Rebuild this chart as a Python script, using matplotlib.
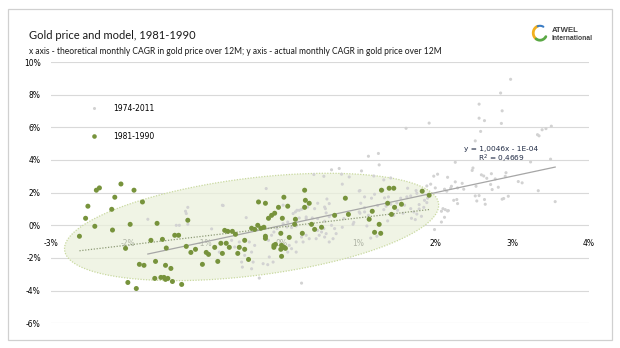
import numpy as np
import matplotlib
matplotlib.use("Agg")
import matplotlib.pyplot as plt
from matplotlib.patches import Rectangle, Polygon
from matplotlib.lines import Line2D
from matplotlib.ticker import FuncFormatter

# ---------------- data (percent units) ----------------
gray_x = [2.98, 2.85, 2.57, 2.87, 2.57, 2.64, 1.92, 2.86, 1.62, 2.59, 2.52, 3.51, 3.44, 3.39, 3.33, 3.35,
          1.26, 1.13, 1.27, 1.04, 0.75, 0.65, 3.50, 3.24, 2.26, 2.49, 2.48, 2.73, 2.63, 2.60, 2.91, 2.92,
          2.03, 1.98, 2.16, 1.42, 1.33, 0.42, 0.55, 0.78, 1.20, 0.88, 2.78, 3.08, 3.13, 2.26, 2.35, 2.21,
          2.53, 2.72, 2.82, 2.74, 2.67, 3.34, 2.95, 2.89, 2.52, 2.57, 2.64, 2.54, 2.65, 2.87, 3.56, 2.28,
          2.29, 2.24, 2.12, 2.15, 2.00, 2.20, 2.29, 2.37, 1.94, 1.89, 1.64, 1.01, 0.79, 1.76, 1.63, 1.68,
          1.90, 1.86, 1.89, 1.55, 1.50, 1.42, 1.17, 1.08, 1.03, 1.34, 1.39, 0.47, 0.59, 0.56, 2.13, 2.17,
          2.08, 1.79, 1.79, 1.85, 1.68, 1.72, 1.76, 1.82, 1.69, 1.74, 2.12, 2.08, 1.99, 1.51, 1.58, 1.46,
          1.38, 1.08, 1.02, 0.94, 0.81, 0.79, 0.93, 1.11, 1.36, 1.25, 1.33, 1.13, 1.08, 1.01, 1.16, 1.24,
          1.02, 1.32, 1.21, 1.75, 1.60, 2.16, 2.10,
          -0.20, -0.76, -0.46, -0.91, 0.18, 0.20, 0.26, 0.43, 0.57, 0.62, 0.58, 0.62, 0.56, 0.23, 0.32,
          0.40, 0.47, 0.08, 0.02, 0.07, 0.13, 0.19, -0.06, -0.10, -0.13, -0.17, 0.47, 0.52, 0.55, 0.58,
          0.56, 0.49, 0.45, 0.32, 0.36, 0.26, 0.19, 0.28, 0.62, 0.67, 0.71, 0.69, 0.65, 0.10, 0.08, 0.19,
          0.13, -0.42, -0.35, -0.39, -0.48, -0.52, -0.37, -0.24, -0.18, -0.11, -0.16, -0.29, 0.26, -0.61,
          -0.55, -0.65, -0.81, -1.74, -1.22, -1.25, -1.37, -1.33, -1.22, -0.77, 0.02, -1.24, -0.51, -0.39,
          0.26, 0.15, 0.19, 0.23, 0.32, 0.34]
gray_y = [8.94, 8.10, 7.42, 7.01, 6.56, 6.41, 6.26, 6.24, 5.94, 5.75, 5.17, 6.07, 5.92, 5.85, 5.55, 5.48,
          4.40, 4.23, 3.70, 3.33, 3.48, 3.40, 4.05, 3.88, 3.86, 3.51, 3.36, 3.16, 3.02, 3.09, 3.00, 3.22,
          3.13, 3.01, 2.94, 2.90, 2.78, 3.11, 3.00, 3.13, 3.02, 2.96, 2.84, 2.68, 2.60, 2.66, 2.57, 2.39,
          2.39, 2.50, 2.33, 2.19, 2.88, 2.12, 1.78, 1.64, 1.80, 1.82, 1.58, 1.49, 1.29, 1.60, 1.45, 1.58,
          1.33, 1.53, 2.21, 2.09, 2.29, 2.27, 2.29, 2.21, 2.52, 2.41, 2.27, 2.10, 2.52, 1.96, 1.74, 1.80,
          1.66, 1.53, 1.39, 1.66, 1.37, 1.29, 1.66, 1.74, 1.35, 1.68, 1.74, 1.35, 1.61, 1.12, 0.96, 0.90,
          0.86, 1.27, 1.00, 1.10, 1.02, 0.82, 0.69, 0.55, 0.43, 0.35, 0.49, 0.20, -0.26, 0.92, 0.74, 0.61,
          0.27, 1.08, 0.74, 0.18, 0.41, -0.12, 0.06, -0.04, 1.17, 1.21, 0.96, 0.61, 0.82, 0.82, -0.78, -0.67,
          2.13, 2.15, 1.90, 2.13, 1.23, 0.88, 1.02,
          2.25, 1.21, 0.47, -0.22, 0.82, 0.92, 0.98, 1.02, 1.02, 1.33, 0.76, 0.53, 0.25, 0.45, 0.41,
          0.45, 0.41, 0.20, 0.10, -0.10, -0.14, -0.04, -0.20, -0.41, -0.61, -0.92, -0.31, -0.41, -0.20, -0.51,
          -0.72, -0.61, -0.82, -0.61, -0.82, -0.72, -1.02, -1.02, -1.02, -0.82, -0.51, -0.20, 0.00, -1.23, -1.64, -1.64,
          -1.43, -1.02, -1.23, -1.64, -1.84, -2.25, -2.25, -2.35, -2.41, -2.25, -1.94, -3.23, -3.54, -1.33,
          -1.02, -0.92, -1.64, 0.37, 1.10, 0.86, 0.00, 0.00, 0.06, 1.23, 1.23, 0.72, -2.56, -2.66,
          -0.51, 0.72, 0.31, 0.92, 0.51, 1.12]

green_x = [-2.09, -2.37, -2.41, -1.92, -2.17, -1.81, -2.52, -2.21, -2.55, -2.43, -2.20, -2.63, -1.97,
           -1.62, -1.70, -1.55, -1.39, -1.34, -1.22, -2.03, -1.50, -1.24, -1.18, -1.12, -1.64, -1.85,
           -1.79, -1.51, -1.44, -1.65, -1.57, -1.53, -1.51, -1.48, -1.42, -1.30, -2.00, -1.89,
           0.30, 0.03, 0.31, 0.36, -0.30, -0.21, 0.30, -0.04, 0.08, -0.09, -0.13, -0.17, 0.01, 0.18,
           -0.31, -0.23, -0.39, -0.35, -0.27, -0.74, -0.70, -0.64, -0.60, 0.17, 0.39, 0.52, 0.43, -0.01,
           0.10, 0.27, -0.21, -0.21, -0.48, -0.72, -0.79, -0.68, -0.87, -0.55, -0.48, -0.98, -0.95, -0.77,
           -0.57, -0.10, -0.10, -0.08, 0.00, 0.03, 0.05, -0.01, 0.00, -0.43, -0.83, -1.03, 0.69, 0.83, 0.87,
           1.30, 1.40, 1.46, 1.83, 1.92, 1.38, 1.56, 1.47, 1.18, 1.43, 1.14, 1.27, 1.21, 1.29]
green_y = [2.53, 2.29, 2.15, 2.15, 1.72, 1.43, 1.17, 0.98, 0.43, -0.06, -0.29, -0.67, 0.06,
           0.12, -0.92, -0.86, -0.61, -0.61, 0.31, -1.41, -1.39, -1.29, -1.66, -1.47, -2.21, -2.39,
           -2.45, -2.45, -2.64, -3.25, -3.19, -3.19, -3.31, -3.25, -3.44, -3.62, -3.50, -3.87,
           2.15, 1.72, 1.53, 1.35, 1.43, 1.35, 1.10, 1.10, 1.17, 0.74, 0.61, 0.43, 0.43, 0.37,
           0.00, -0.12, -0.18, -0.25, -0.18, -0.31, -0.37, -0.37, -0.55, 0.06, 0.06, -0.12, -0.25, -0.49,
           -0.74, -0.49, -0.67, -0.80, -0.92, -1.10, -1.10, -1.35, -1.35, -1.35, -1.47, -1.66, -1.78, -1.72,
           -1.72, -1.35, -1.23, -1.17, -1.23, -1.35, -1.41, -1.47, -1.90, -2.09, -2.21, -2.39, 0.61, 1.66, 0.67,
           2.15, 2.27, 2.27, 2.09, 1.84, 1.35, 1.29, 1.10, 0.86, 0.67, 0.37, 0.06, -0.43, -0.49]

series_labels = ["1974-2011", "1981-1990"]
trend_all = (1.0046, -0.01)      # slope, intercept (percent units)
trend_8190 = (0.555, -0.10)
r_squared = "0,4669"
ellipse_center = (-0.39, -0.10)
ellipse_u = (2.433, 1.43)        # half major axis vector (data units)
ellipse_v = (0.078, -2.96)       # half minor axis vector (data units)

x_ticks = [-3, -2, -1, 0, 1, 2, 3, 4]
y_ticks = [-6, -4, -2, 0, 2, 4, 6, 8, 10]

title = "Gold price and model, 1981-1990"
subtitle = "x axis - theoretical monthly CAGR in gold price over 12M; y axis - actual monthly CAGR in gold price over 12M"

# ---------------- figure ----------------
W, H = 620, 348
fig = plt.figure(figsize=(W / 100, H / 100), dpi=100)
fig.patch.set_facecolor("white")

def fx(px):
    return px / W

def fy(py):
    return 1 - py / H

# outer frame
fig.patches.append(Rectangle((fx(7.5), fy(340)), fx(612) - fx(7.5), fy(8.5) - fy(340),
                             transform=fig.transFigure, fill=False, edgecolor="#d0d0d0", lw=0.9))

ax = fig.add_axes([fx(51), fy(323.3), fx(589) - fx(51), fy(62) - fy(323.3)])
ax.set_xlim(-3, 4)
ax.set_ylim(-6, 10)
for s in ax.spines.values():
    s.set_visible(False)
ax.spines["bottom"].set_position(("data", 0))
ax.set_xticks(x_ticks)
ax.set_yticks(y_ticks)
pct = FuncFormatter(lambda v, p: f"{v:.0f}%")
ax.xaxis.set_major_formatter(pct)
ax.yaxis.set_major_formatter(pct)
ax.tick_params(axis="x", length=0, pad=9.5, labelsize=5.5, colors="#000000")
ax.tick_params(axis="y", length=0, pad=7.3, labelsize=5.5, colors="#000000")
ax.grid(axis="y", color="#d9d9d9", lw=0.8, zorder=0)
ax.set_axisbelow(True)

# ellipse
t = np.linspace(0, 2 * np.pi, 300)
ex = ellipse_center[0] + ellipse_u[0] * np.cos(t) + ellipse_v[0] * np.sin(t)
ey = ellipse_center[1] + ellipse_u[1] * np.cos(t) + ellipse_v[1] * np.sin(t)
ax.add_patch(Polygon(np.column_stack([ex, ey]), closed=True, facecolor="#ebf1dd", alpha=0.75,
                     edgecolor="none", zorder=1))
ax.plot(ex, ey, color="#c9d99f", lw=0.9, ls=(0, (1, 1.2)), zorder=1.1)

# points
ax.scatter(gray_x, gray_y, s=5, color="#d2d2d2", edgecolors="none", zorder=2, label=series_labels[0])

# trend lines
gx = np.array([min(gray_x), max(gray_x)])
ax.plot(gx, trend_all[0] * gx + trend_all[1], color="#a6a6a6", lw=0.9, zorder=3)
gr = np.array([min(green_x), max(green_x)])
ax.plot(gr, trend_8190[0] * gr + trend_8190[1], color="#8f9c78", lw=0.9, ls=(0, (1, 1.3)), zorder=3)

ax.scatter(green_x, green_y, s=13, color="#77933c", edgecolors="none", zorder=4, label=series_labels[1])

# equation
ax.text(2.86, 4.65, f"y = {trend_all[0]:.4f}x - 1E-04".replace(".", ","), ha="center", va="center",
        fontsize=5.3, color="#1f2a44", zorder=5)
ax.text(2.86, 4.05, f"R$^2$ = {r_squared}", ha="center", va="center", fontsize=5.3, color="#1f2a44", zorder=5)

# legend
handles = [Line2D([], [], ls="none", marker="o", ms=2.2, mfc="#d2d2d2", mec="none"),
           Line2D([], [], ls="none", marker="o", ms=3.3, mfc="#77933c", mec="none")]
fig.legend(handles, series_labels, loc="upper left", bbox_to_anchor=(fx(90), fy(104)),
           frameon=False, fontsize=5.5, handlelength=1.0, handletextpad=2.1, labelspacing=2.45,
           borderpad=0, borderaxespad=0)

# titles
fig.text(fx(29.5), fy(35.5), title, fontsize=8.0, family="Lato", color="#1a1a1a", va="center", ha="left")
fig.text(fx(29.5), fy(51.5), subtitle, fontsize=6.15, family="Lato", color="#1a1a1a", va="center", ha="left")

# logo
lax = fig.add_axes([fx(531), fy(42), fx(549) - fx(531), fy(24) - fy(42)])
lax.set_xlim(-1, 1)
lax.set_ylim(-1, 1)
lax.axis("off")
a1 = np.linspace(np.radians(110), np.radians(235), 40)
lax.plot(0.75 * np.cos(a1), 0.8 * np.sin(a1), color="#f2b01e", lw=2.0, solid_capstyle="round")
a2 = np.linspace(np.radians(235), np.radians(330), 40)
lax.plot(0.75 * np.cos(a2), 0.8 * np.sin(a2), color="#5aa845", lw=2.0, solid_capstyle="round")
a3 = np.linspace(np.radians(60), np.radians(110), 20)
lax.plot(0.75 * np.cos(a3), 0.8 * np.sin(a3), color="#3a7cc4", lw=1.5, solid_capstyle="round")
fig.text(fx(552), fy(30), "ATWEL", fontsize=5.6, family="Liberation Sans", weight="bold",
         color="#404040", va="center", ha="left")
fig.text(fx(552), fy(38.3), "International", fontsize=4.9, family="Liberation Sans", weight="bold",
         color="#404040", va="center", ha="left")

fig.savefig("out.png", dpi=100, facecolor="white")
